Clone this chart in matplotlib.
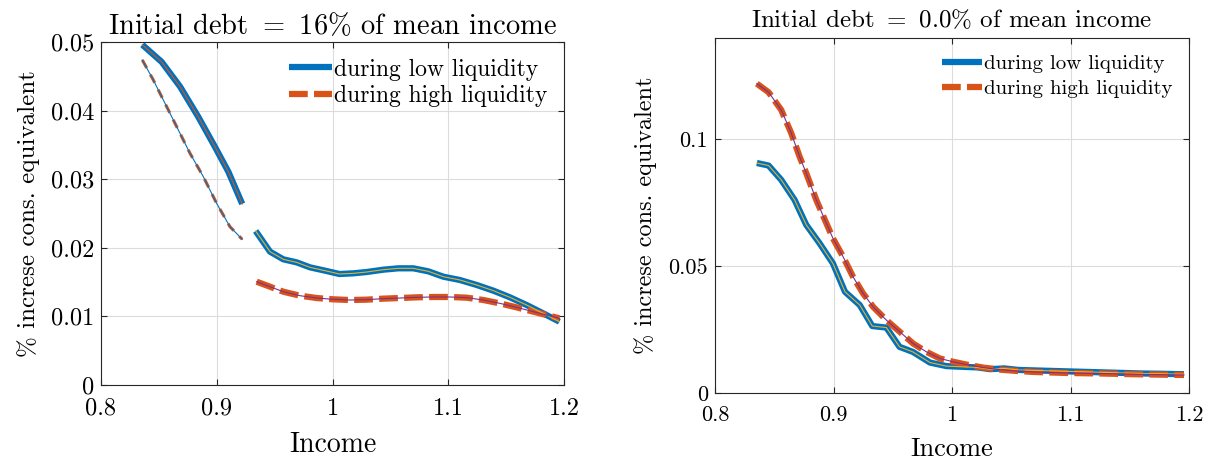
import matplotlib
matplotlib.use('Agg')
import matplotlib.pyplot as plt

# colours (matlab default order)
BLUE = '#0072BD'
ORANGE = '#D95319'
YELLOW = '#EDB120'
PURPLE = '#7E2F8E'

# ---- left panel: initial debt 16% ----
low_x1 = [0.8357, 0.8524, 0.8683, 0.8840, 0.8985, 0.9100, 0.9220]
low_y1 = [0.0496, 0.0471, 0.0435, 0.0391, 0.0347, 0.0311, 0.0264]
low_x2 = [0.9336, 0.9460, 0.9575, 0.9690, 0.9806, 0.9935, 1.0060, 1.0180, 1.0295, 1.0439, 1.0569,
          1.0698, 1.0828, 1.0957, 1.1100, 1.1246, 1.1390, 1.1533, 1.1677, 1.1820, 1.1960]
low_y2 = [0.02245, 0.01944, 0.01832, 0.01788, 0.01715, 0.01667, 0.01618, 0.01628, 0.01647, 0.01681, 0.01701,
          0.01701, 0.01657, 0.01579, 0.01531, 0.01458, 0.01375, 0.01278, 0.01166, 0.01045, 0.00923]
high_x1 = [0.8357, 0.8452, 0.8553, 0.8654, 0.8769, 0.8884, 0.8999, 0.9114, 0.9220]
high_y1 = [0.04738, 0.04446, 0.04106, 0.03765, 0.03377, 0.03037, 0.02648, 0.02308, 0.02124]
high_x2 = [0.9345, 0.9460, 0.9575, 0.9719, 0.9863, 1.0007, 1.0151, 1.0295, 1.0439, 1.0583, 1.0727,
           1.0871, 1.1015, 1.1159, 1.1303, 1.1447, 1.1590, 1.1735, 1.1850, 1.1960]
high_y2 = [0.01506, 0.01433, 0.01360, 0.01302, 0.01268, 0.01249, 0.01239, 0.01244, 0.01259, 0.01268, 0.01278,
           0.01283, 0.01283, 0.01273, 0.01239, 0.01190, 0.01132, 0.01069, 0.01020, 0.00972]

# ---- right panel: initial debt 0% ----
r_low_x = [0.8353, 0.8452, 0.8558, 0.8671, 0.8770, 0.8883, 0.8995, 0.9097, 0.9221, 0.9327, 0.9446,
           0.9557, 0.9670, 0.9814, 0.9953, 1.0096, 1.0210, 1.0320, 1.0440, 1.0560, 1.0700, 1.0850,
           1.1000, 1.1150, 1.1300, 1.1450, 1.1600, 1.1750, 1.1957]
r_low_y = [0.0907, 0.0897, 0.0841, 0.0762, 0.0663, 0.0590, 0.0511, 0.0399, 0.0347, 0.0264, 0.0258,
           0.0182, 0.0162, 0.0120, 0.0106, 0.0103, 0.0101, 0.0094, 0.0097, 0.0091, 0.0089, 0.0087,
           0.0085, 0.0083, 0.0081, 0.0079, 0.0077, 0.0076, 0.0074]
r_high_x = [0.8353, 0.8452, 0.8558, 0.8643, 0.8713, 0.8770, 0.8854, 0.8939, 0.8995, 0.9080, 0.9165,
            0.9249, 0.9334, 0.9447, 0.9560, 0.9672, 0.9785, 0.9898, 1.0011, 1.0123, 1.0265, 1.0406,
            1.0547, 1.0688, 1.0970, 1.1252, 1.1534, 1.1957]
r_high_y = [0.1220, 0.1186, 0.1117, 0.1025, 0.0933, 0.0867, 0.0762, 0.0670, 0.0610, 0.0538, 0.0458,
            0.0393, 0.0340, 0.0287, 0.0241, 0.0195, 0.0162, 0.0136, 0.0123, 0.0112, 0.0100, 0.0092,
            0.0087, 0.0083, 0.0079, 0.0077, 0.0074, 0.0071]

xticks = [0.8, 0.9, 1.0, 1.1, 1.2]
xticklabels = ['0.8', '0.9', '1', '1.1', '1.2']

plt.rcParams['font.family'] = ['cmr10', 'DejaVu Serif']
plt.rcParams['mathtext.fontset'] = 'cm'
plt.rcParams['axes.unicode_minus'] = False

fig = plt.figure(figsize=(12.08, 4.59), dpi=100)
ax1 = fig.add_axes([0.0836, 0.1612, 0.3833, 0.7473])
ax2 = fig.add_axes([0.5919, 0.1438, 0.3924, 0.7734])


def style_axes(ax, fs):
    for s in ax.spines.values():
        s.set_color('#262626')
        s.set_linewidth(0.8)
    ax.tick_params(direction='in', top=True, right=True, length=4, width=0.8,
                   color='#262626', labelsize=fs)
    ax.tick_params(axis='y', pad=5)
    ax.tick_params(axis='x', pad=9)
    ax.grid(True, color='#dcdcdc', linewidth=0.8)
    ax.set_axisbelow(True)
    ax.set_xlim(0.8, 1.2)
    ax.set_xticks(xticks)
    ax.set_xticklabels(xticklabels)


# left
ax1.plot(low_x1, low_y1, color=BLUE, lw=4.5, solid_capstyle='butt')
ax1.plot(low_x2, low_y2, color=BLUE, lw=4.5, solid_capstyle='butt', label='during low liquidity')
ax1.plot(high_x1, high_y1, color=ORANGE, lw=2.2, dashes=(3, 2.5))
ax1.plot(high_x2, high_y2, color=ORANGE, lw=4.5, dashes=(3, 1), label='during high liquidity')
ax1.plot(low_x1, low_y1, color=ORANGE, lw=0.8)
ax1.plot(low_x2, low_y2, color=YELLOW, lw=0.8)
ax1.plot(high_x1, high_y1, color=BLUE, lw=0.8)
ax1.plot(high_x2, high_y2, color=PURPLE, lw=0.8)
style_axes(ax1, 17.5)
ax1.set_ylim(0, 0.05)
ax1.set_yticks([0, 0.01, 0.02, 0.03, 0.04, 0.05])
ax1.set_yticklabels(['0', '0.01', '0.02', '0.03', '0.04', '0.05'])
ax1.set_title('Initial debt $=$ 16% of mean income', fontsize=20.5, pad=6)
ax1.set_xlabel('Income', fontsize=20, labelpad=8.5)
ax1.set_ylabel('% increse cons. equivalent', fontsize=18, labelpad=8)
ax1.legend(loc='upper right', frameon=False, fontsize=17, handlelength=1.8,
           handletextpad=0.1, labelspacing=0.18, borderaxespad=0.3)

# right
ax2.plot(r_low_x, r_low_y, color=BLUE, lw=4.5, solid_capstyle='butt', label='during low liquidity')
ax2.plot(r_high_x, r_high_y, color=ORANGE, lw=4.5, dashes=(3, 1), label='during high liquidity')
ax2.plot(r_low_x, r_low_y, color=YELLOW, lw=0.8)
ax2.plot(r_high_x, r_high_y, color=PURPLE, lw=0.8)
style_axes(ax2, 16)
ax2.set_ylim(0, 0.14)
ax2.set_yticks([0, 0.05, 0.1])
ax2.set_yticklabels(['0', '0.05', '0.1'])
ax2.set_title('Initial debt $=$ 0.0% of mean income', fontsize=18, pad=8)
ax2.set_xlabel('Income', fontsize=19, labelpad=8.5)
ax2.set_ylabel('% increse cons. equivalent', fontsize=17.5, labelpad=8)
ax2.legend(loc='upper right', frameon=False, fontsize=15, handlelength=1.9,
           handletextpad=0.1, labelspacing=0.3, borderaxespad=0.4)

fig.savefig('out.png', dpi=100)
